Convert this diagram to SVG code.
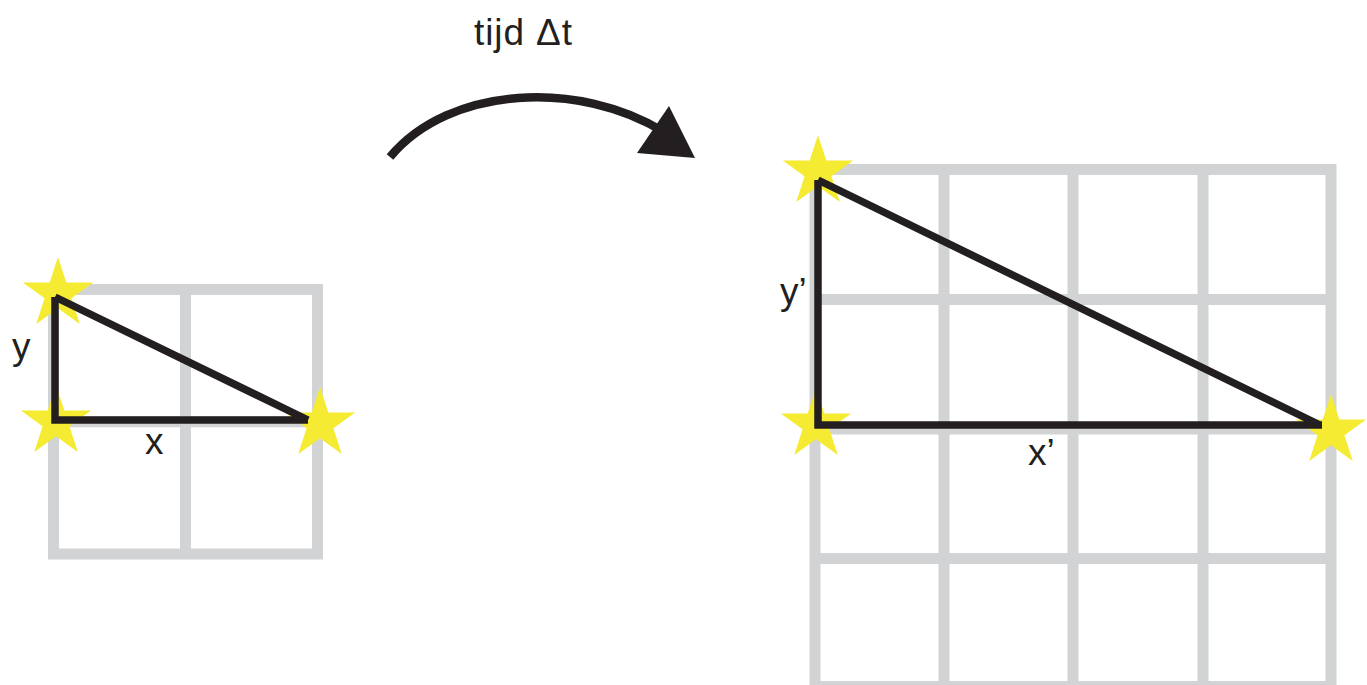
<svg xmlns="http://www.w3.org/2000/svg" width="1367" height="685" viewBox="0 0 1367 685">
  <style>
    .grid { fill: none; stroke: #D1D3D4; stroke-width: 11; }
    .tri { fill: none; stroke: #231F20; stroke-width: 7.5; stroke-linecap: butt; stroke-linejoin: miter; }
    .star { fill: #F5EB33; }
    .lbl { font-family: "Liberation Sans", Arial, sans-serif; font-size: 37px; fill: #231F20; }
  </style>
  <defs>
    <path id="star" d="M0,-37 L8.31,-11.43 L35.19,-11.43 L13.44,4.37 L21.75,29.93 L0,14.13 L-21.75,29.93 L-13.44,4.37 L-35.19,-11.43 L-8.31,-11.43 Z"/>
  </defs>
  <rect width="1367" height="685" fill="#FFFFFF"/>

  <g id="grid-before">
    <rect class="grid" x="53.5" y="289.5" width="264" height="264.5" stroke-width="10.5"/>
    <line class="grid" x1="185.5" y1="289.5" x2="185.5" y2="554" stroke-width="10.5"/>
    <line class="grid" x1="53.5" y1="421.8" x2="317.5" y2="421.8" stroke-width="10.5"/>
  </g>

  <g id="grid-after">
    <rect class="grid" x="815" y="169.5" width="516" height="517"/>
    <line class="grid" x1="944" y1="169.5" x2="944" y2="686.5"/>
    <line class="grid" x1="1073" y1="169.5" x2="1073" y2="686.5"/>
    <line class="grid" x1="1203" y1="169.5" x2="1203" y2="686.5"/>
    <line class="grid" x1="815" y1="299.5" x2="1331" y2="299.5"/>
    <line class="grid" x1="815" y1="429" x2="1331" y2="429"/>
    <line class="grid" x1="815" y1="558.5" x2="1331" y2="558.5"/>
  </g>

  <g id="stars-before">
    <use href="#star" class="star" transform="translate(58,294)"/>
    <use href="#star" class="star" transform="translate(56,422)"/>
    <use href="#star" class="star" transform="translate(320,424)"/>
  </g>
  <g id="stars-after">
    <use href="#star" class="star" transform="translate(818,172)"/>
    <use href="#star" class="star" transform="translate(816,425)"/>
    <use href="#star" class="star" transform="translate(1331,431)"/>
  </g>

  <g id="triangle-before">
    <path class="tri" d="M55,297 L55,420 L308,420 M55,297 L308,420"/>
  </g>
  <g id="triangle-after">
    <path class="tri" stroke-width="8.5" d="M818,180 L818,425 L1322,425 M818,180 L1320,425"/>
  </g>

  <g id="labels">
    <text class="lbl" x="12" y="359">y</text>
    <text class="lbl" x="145" y="454">x</text>
    <text class="lbl" x="780" y="304">y’</text>
    <text class="lbl" x="1028" y="465">x’</text>
  </g>

  <g id="connectors">
    <path d="M390,157 C450,85 580,80 664,132" fill="none" stroke="#231F20" stroke-width="8.5"/>
    <polygon points="669,106 695,158 637,153" fill="#231F20"/>
    <text class="lbl" x="474" y="45" textLength="98">tijd Δt</text>
  </g>
</svg>
